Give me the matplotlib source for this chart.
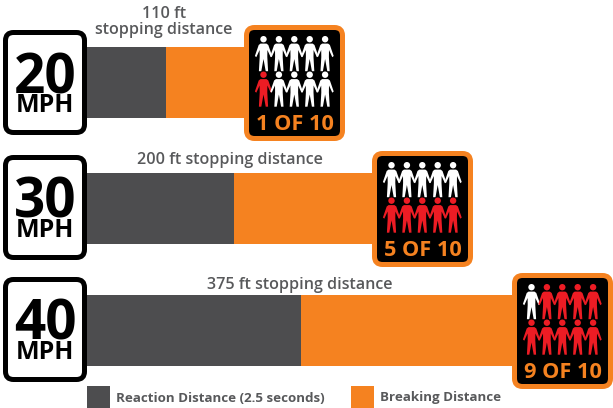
import matplotlib
matplotlib.use("Agg")
import matplotlib.pyplot as plt
from matplotlib.patches import FancyBboxPatch, Circle, Polygon

# ---- data (lengths, in drawn units) ----
speeds = ["20", "30", "40"]
unit = "MPH"
reaction_len = [79, 147, 214]
braking_len = [85, 148, 220]
stop_labels = ["110 ft\nstopping distance", "200 ft stopping distance", "375 ft stopping distance"]
fatal_counts = [1, 5, 9]
total_people = 10
legend_labels = ["Reaction Distance (2.5 seconds)", "Breaking Distance"]

# ---- styles / layout ----
GREY = "#4d4d4f"
ORANGE = "#f58220"
RED = "#ed1c24"
TXT = "#58595b"
FONT = "Open Sans"
bar_left = 87
bar_tops = [47, 173, 295]
bar_h = 71
sign_boxes = [(3, 30), (3, 155), (3, 277)]
sign_size = (84, 105)
badge_boxes = [(244, 25), (372, 151), (512, 273)]
badge_size = (101, 116)
label_pos = [(164, 22), (230, 160), (300, 285)]

fig = plt.figure(figsize=(6.13, 4.08), dpi=100, facecolor="white")
ax = fig.add_axes([0, 0, 1, 1])
ax.set_xlim(0, 613)
ax.set_ylim(408, 0)
ax.axis("off")


def rbox(x, y, w, h, r, fc, ec, lw, z):
    # the box is inset by half the stroke so that outer edges land on x, y, w, h
    s = lw / 0.72
    p = FancyBboxPatch((x + s / 2 + r, y + s / 2 + r), w - s - 2 * r, h - s - 2 * r,
                       boxstyle=f"round,pad={r},rounding_size={r}",
                       fc=fc, ec=ec, lw=lw, zorder=z, joinstyle="round")
    ax.add_patch(p)


RIGHT = [(0, 7.6), (3.0, 7.6), (4.8, 9), (8.6, 20), (7.2, 21.2), (3.9, 14),
         (3.8, 21), (4.6, 35.2), (2.2, 35.2), (0, 23)]
BODY = RIGHT + [(-x, y) for x, y in RIGHT[-2:0:-1]]


def person(cx, top, color):
    ax.add_patch(Circle((cx, top + 3.2), 3.2, fc=color, ec="none", zorder=6))
    ax.add_patch(Polygon([(cx + x, top + y) for x, y in BODY], closed=True,
                         fc=color, ec="none", zorder=6))


for i, speed in enumerate(speeds):
    ymid = bar_tops[i] + bar_h / 2
    ax.barh(ymid, reaction_len[i], height=bar_h, left=bar_left, color=GREY, zorder=2, linewidth=0)
    ax.barh(ymid, braking_len[i], height=bar_h, left=bar_left + reaction_len[i], color=ORANGE,
            zorder=2, linewidth=0)

    # speed sign
    sx, sy = sign_boxes[i]
    rbox(sx, sy, *sign_size, 8, "white", "black", 3.6, 4)
    ax.text(sx + 42, sy + 63, speed, ha="center", va="baseline", family=FONT, weight="bold",
            fontsize=39.5, color="black", zorder=5)
    ax.text(sx + 42, sy + 82, unit, ha="center", va="baseline", family=FONT, weight="bold",
            fontsize=18, color="black", zorder=5)

    # badge
    bx, by = badge_boxes[i]
    rbox(bx, by, *badge_size, 8, "black", ORANGE, 3.6, 4)
    n = fatal_counts[i]
    # red fills the bottom row left to right, then the top row right to left
    order = [(1, c) for c in range(5)] + [(0, c) for c in range(4, -1, -1)]
    red_slots = set(order[:n])
    for r in range(2):
        for c in range(total_people // 2):
            color = RED if (r, c) in red_slots else "white"
            person(bx + 19.5 + c * 15.4, by + 11 + r * 35.5, color)
    ax.text(bx + badge_size[0] / 2, by + 105, f"{n} OF {total_people}", ha="center", va="baseline",
            family=FONT, weight="bold", fontsize=15.7, color=ORANGE, zorder=6)

    # stopping label
    lx, ly = label_pos[i]
    ax.text(lx, ly, stop_labels[i], ha="center", va="center",
            family=FONT, weight=600, fontsize=11.6, color=TXT, linespacing=0.95, zorder=6)

# legend
leg_swatch_x = [87, 351]
leg_text_x = [116, 380]
leg_colors = [GREY, ORANGE]
for x, tx, c, lab in zip(leg_swatch_x, leg_text_x, leg_colors, legend_labels):
    ax.barh(397, 23, height=22, left=x, color=c, linewidth=0, zorder=2)
    ax.text(tx, 398, lab, ha="left", va="center", family=FONT, weight="bold",
            fontsize=9.6, color=TXT)

fig.savefig("out.png", dpi=100, facecolor="white")
